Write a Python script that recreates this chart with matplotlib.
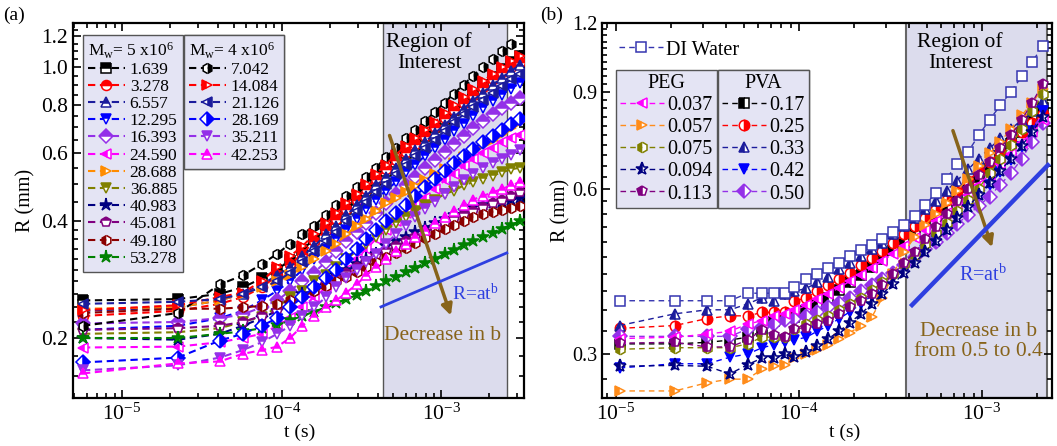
import math
import matplotlib
matplotlib.use("Agg")
import matplotlib.pyplot as plt
from matplotlib.ticker import LogLocator, FixedLocator, FuncFormatter, NullFormatter

plt.rcParams["font.family"] = ["Liberation Serif", "DejaVu Serif"]
plt.rcParams["mathtext.fontset"] = "custom"
plt.rcParams["mathtext.rm"] = "Liberation Serif"
plt.rcParams["mathtext.it"] = "Liberation Serif:italic"
plt.rcParams["mathtext.bf"] = "Liberation Serif:bold"

nan = float("nan")

# ---- panel (a): R (mm) vs t (s), two molecular weights ----
T_A = [5.7e-6, 2.24e-5, 4.1e-5, 5.7e-5, 7.5e-5, 9.4e-5, 1.13e-4, 1.35e-4, 1.6e-4, 1.9e-4,
       2.2e-4, 2.55e-4, 2.95e-4, 3.4e-4, 3.9e-4, 4.5e-4, 5.2e-4, 6.0e-4, 6.9e-4, 7.9e-4,
       9.1e-4, 1.05e-3, 1.2e-3, 1.38e-3, 1.58e-3, 1.82e-3, 2.1e-3, 2.4e-3, 2.75e-3, 3.1e-3]

# Mw = 5x10^6
a_1639 = [0.25, 0.252, 0.26, 0.27, 0.285, 0.3, 0.318, 0.338, 0.36, 0.382, 0.405, 0.43, 0.455, 0.48, 0.51,
          0.54, 0.57, 0.6, 0.63, 0.665, 0.70, 0.735, 0.775, 0.815, 0.855, 0.9, 0.945, 0.99, 1.03, 1.07]
a_3278 = [0.228, 0.235, 0.245, 0.255, 0.27, 0.29, 0.31, 0.33, 0.355, 0.38, 0.405, 0.43, 0.455, 0.485, 0.515,
          0.545, 0.575, 0.605, 0.635, 0.665, 0.70, 0.74, 0.775, 0.81, 0.85, 0.89, 0.93, 0.97, 1.0, 1.03]
a_6557 = [0.235, 0.24, 0.25, 0.26, 0.275, 0.29, 0.305, 0.325, 0.345, 0.37, 0.39, 0.415, 0.44, 0.465, 0.495,
          0.52, 0.55, 0.58, 0.61, 0.64, 0.675, 0.71, 0.745, 0.78, 0.82, 0.86, 0.9, 0.94, 0.98, 1.01]
a_12295 = [0.21, 0.215, 0.225, 0.235, 0.25, 0.265, 0.28, 0.3, 0.32, 0.34, 0.36, 0.38, 0.405, 0.43, 0.455,
           0.48, 0.505, 0.535, 0.56, 0.59, 0.62, 0.65, 0.685, 0.715, 0.75, 0.785, 0.82, 0.85, 0.88, 0.91]
a_16393 = [0.218, 0.22, 0.225, 0.23, 0.24, 0.25, 0.265, 0.28, 0.295, 0.315, 0.335, 0.355, 0.375, 0.395, 0.42,
           0.445, 0.47, 0.495, 0.52, 0.55, 0.575, 0.605, 0.635, 0.665, 0.695, 0.725, 0.755, 0.785, 0.81, 0.835]
a_24590 = [0.189, 0.19, 0.195, 0.2, 0.205, 0.215, 0.225, 0.24, 0.255, 0.27, 0.285, 0.3, 0.32, 0.34, 0.36,
           0.38, 0.4, 0.42, 0.44, 0.46, 0.485, 0.51, 0.53, 0.555, 0.58, 0.6, 0.62, 0.64, 0.655, 0.67]
a_28688 = [0.238, 0.24, 0.25, 0.26, 0.27, 0.28, 0.29, 0.305, 0.32, 0.335, 0.35, 0.37, 0.39, 0.405, 0.425,
           0.445, 0.46, 0.477, 0.494, 0.511, 0.529, 0.547, 0.566, 0.586, 0.607, 0.628, 0.65, 0.673, 0.696, 0.72]
a_36885 = [0.205, 0.207, 0.212, 0.22, 0.227, 0.24, 0.255, 0.265, 0.28, 0.29, 0.305, 0.32, 0.335, 0.35, 0.365,
           0.38, 0.395, 0.41, 0.425, 0.44, 0.455, 0.47, 0.48, 0.495, 0.505, 0.515, 0.525, 0.535, 0.545, 0.55]
a_40983 = [0.2, 0.198, 0.205, 0.215, 0.225, 0.235, 0.245, 0.26, 0.27, 0.28, 0.29, 0.3, 0.31, 0.32, 0.33,
           0.345, 0.355, 0.365, 0.375, 0.385, 0.395, 0.405, 0.415, 0.425, 0.435, 0.44, 0.445, 0.45, 0.455, 0.46]
a_45081 = [0.21, 0.212, 0.215, 0.22, 0.228, 0.235, 0.245, 0.255, 0.265, 0.275, 0.285, 0.295, 0.305, 0.315, 0.325,
           0.335, 0.345, 0.355, 0.365, 0.375, 0.385, 0.395, 0.405, 0.415, 0.425, 0.435, 0.445, 0.455, 0.465, 0.475]
a_49180 = [0.232, 0.238, 0.238, 0.24, 0.242, 0.245, 0.25, 0.257, 0.265, 0.272, 0.28, 0.288, 0.296, 0.305, 0.314,
           0.323, 0.332, 0.342, 0.352, 0.362, 0.372, 0.382, 0.392, 0.402, 0.41, 0.417, 0.423, 0.428, 0.433, 0.437]
a_53278 = [0.2, 0.2, 0.205, 0.208, 0.212, 0.216, 0.222, 0.228, 0.234, 0.24, 0.246, 0.252, 0.258, 0.265, 0.272,
           0.28, 0.288, 0.296, 0.304, 0.312, 0.32, 0.329, 0.338, 0.347, 0.356, 0.365, 0.374, 0.383, 0.392, 0.40]
# Mw = 4x10^6
a_7042 = [0.215, 0.232, 0.275, 0.29, 0.31, 0.33, 0.35, 0.37, 0.39, 0.415, 0.44, 0.465, 0.49, 0.52, 0.55,
          0.585, 0.62, 0.655, 0.69, 0.725, 0.765, 0.81, 0.855, 0.9, 0.95, 1.0, 1.05, 1.10, 1.15, nan]
a_14084 = [0.236, 0.243, 0.255, 0.262, 0.28, 0.305, 0.325, 0.345, 0.37, 0.395, 0.42, 0.445, 0.47, 0.5, 0.53,
           0.56, 0.595, 0.625, 0.655, 0.69, 0.72, 0.76, 0.80, 0.84, 0.88, 0.92, 0.96, 1.0, 1.04, 1.07]
a_21126 = [0.245, 0.248, 0.252, 0.26, 0.27, 0.28, 0.295, 0.315, 0.335, 0.355, 0.375, 0.4, 0.425, 0.45, 0.475,
           0.5, 0.53, 0.56, 0.59, 0.62, 0.65, 0.685, 0.72, 0.755, 0.79, 0.825, 0.86, 0.895, 0.93, 0.96]
a_28169 = [0.173, 0.178, 0.197, 0.205, 0.215, 0.225, 0.24, 0.255, 0.27, 0.285, 0.3, 0.32, 0.34, 0.36, 0.38,
           0.4, 0.42, 0.44, 0.465, 0.49, 0.515, 0.54, 0.565, 0.59, 0.615, 0.64, 0.665, 0.69, 0.715, 0.735]
a_35211 = [0.165, 0.17, 0.178, 0.186, 0.195, 0.205, 0.215, 0.228, 0.24, 0.255, 0.27, 0.285, 0.3, 0.315, 0.33,
           0.35, 0.37, 0.39, 0.41, 0.43, 0.45, 0.47, 0.49, 0.51, 0.53, 0.55, 0.565, 0.58, 0.595, 0.61]
a_42253 = [0.162, 0.172, 0.174, 0.182, 0.186, 0.19, 0.2, 0.215, 0.228, 0.24, 0.25, 0.262, 0.275, 0.29, 0.305,
           0.32, 0.335, 0.35, 0.365, 0.38, 0.395, 0.41, 0.425, 0.44, 0.455, 0.465, 0.475, 0.485, 0.495, 0.505]

LAB_MW5 = ["1.639", "3.278", "6.557", "12.295", "16.393", "24.590", "28.688", "36.885",
           "40.983", "45.081", "49.180", "53.278"]
LAB_MW4 = ["7.042", "14.084", "21.126", "28.169", "35.211", "42.253"]

# ---- panel (b): DI water, PEG and PVA ----
T_B = [1.05e-5, 2.1e-5, 3.15e-5, 4.2e-5, 5.25e-5, 6.3e-5, 7.35e-5, 8.4e-5, 9.45e-5, 1.1e-4,
       1.26e-4, 1.45e-4, 1.66e-4, 1.9e-4, 2.18e-4, 2.5e-4, 2.86e-4, 3.28e-4, 3.76e-4, 4.3e-4,
       4.9e-4, 5.6e-4, 6.4e-4, 7.3e-4, 8.4e-4, 9.6e-4, 1.1e-3, 1.26e-3, 1.44e-3, 1.65e-3,
       1.88e-3, 2.15e-3]

b_water = [0.375, 0.375, 0.375, 0.375, 0.387, 0.387, 0.387, 0.387, 0.398, 0.41, 0.42, 0.43, 0.44, 0.452,
           0.463, 0.474, 0.485, 0.5, 0.515, 0.535, 0.56, 0.59, 0.625, 0.665, 0.70, 0.75, 0.80, 0.85,
           0.90, 0.96, 1.02, 1.09]
b_peg037 = [0.32, 0.322, 0.326, 0.33, 0.34, 0.345, 0.352, 0.355, 0.36, 0.368, 0.377, 0.386, 0.396, 0.407,
            0.418, 0.43, 0.443, 0.457, 0.472, 0.488, 0.505, 0.523, 0.542, 0.562, 0.585, 0.61, 0.636, 0.664,
            0.694, 0.726, 0.76, 0.80]
b_peg057 = [0.257, 0.257, 0.266, 0.27, 0.27, 0.282, 0.285, 0.287, 0.295, 0.3, 0.305, 0.312, 0.32, 0.328,
            0.338, 0.35, 0.38, 0.42, 0.46, 0.49, 0.515, 0.54, 0.565, 0.595, 0.625, 0.66, 0.695, 0.73,
            0.77, 0.815, 0.86, 0.91]
b_peg075 = [0.306, 0.308, 0.308, 0.308, 0.313, 0.322, 0.322, 0.322, 0.333, 0.34, 0.346, 0.352, 0.36, 0.37,
            0.38, 0.392, 0.405, 0.42, 0.437, 0.455, 0.475, 0.497, 0.52, 0.545, 0.572, 0.6, 0.64, 0.68,
            0.72, 0.77, 0.83, 0.89]
b_peg094 = [0.285, 0.286, 0.285, 0.276, 0.287, 0.295, 0.295, 0.3, 0.296, 0.302, 0.31, 0.32, 0.33, 0.342,
            0.355, 0.37, 0.386, 0.403, 0.421, 0.44, 0.46, 0.482, 0.505, 0.53, 0.556, 0.584, 0.614, 0.646,
            0.68, 0.718, 0.76, 0.81]
b_peg113 = [0.314, 0.315, 0.309, 0.309, 0.318, 0.332, 0.325, 0.322, 0.333, 0.335, 0.34, 0.345, 0.355, 0.365,
            0.375, 0.385, 0.4, 0.42, 0.44, 0.46, 0.485, 0.51, 0.54, 0.57, 0.6, 0.635, 0.67, 0.71,
            0.75, 0.8, 0.86, 0.93]
b_pva17 = [0.313, 0.313, 0.315, 0.318, 0.322, 0.33, 0.345, 0.35, 0.35, 0.36, 0.37, 0.38, 0.392, 0.405,
           0.418, 0.432, 0.447, 0.463, 0.48, 0.498, 0.517, 0.537, 0.558, 0.58, 0.605, 0.63, 0.655, 0.69,
           0.725, 0.76, 0.80, 0.84]
b_pva25 = [0.334, 0.338, 0.348, 0.352, 0.352, 0.357, 0.357, 0.358, 0.374, 0.38, 0.39, 0.4, 0.41, 0.422,
           0.435, 0.448, 0.462, 0.478, 0.495, 0.512, 0.53, 0.55, 0.572, 0.595, 0.62, 0.645, 0.67, 0.7,
           0.73, 0.76, 0.79, 0.82]
b_pva33 = [0.338, 0.355, 0.361, 0.361, 0.37, 0.38, 0.375, 0.386, 0.39, 0.395, 0.405, 0.415, 0.428, 0.44,
           0.452, 0.465, 0.478, 0.495, 0.512, 0.53, 0.55, 0.57, 0.595, 0.62, 0.65, 0.68, 0.71, 0.74,
           0.77, 0.8, 0.83, 0.865]
b_pva42 = [0.283, 0.288, 0.288, 0.296, 0.3, 0.308, 0.312, 0.315, 0.318, 0.322, 0.33, 0.338, 0.348, 0.358,
           0.37, 0.383, 0.397, 0.412, 0.428, 0.445, 0.463, 0.483, 0.505, 0.528, 0.553, 0.58, 0.61, 0.642,
           0.677, 0.715, 0.765, 0.83]
b_pva50 = [0.323, 0.323, 0.323, 0.323, 0.333, 0.336, 0.34, 0.346, 0.348, 0.352, 0.358, 0.365, 0.372, 0.38,
           0.39, 0.4, 0.41, 0.422, 0.435, 0.45, 0.465, 0.48, 0.498, 0.517, 0.537, 0.558, 0.58, 0.61,
           0.64, 0.68, 0.73, 0.79]

LAB_PEG = ["0.037", "0.057", "0.075", "0.094", "0.113"]
LAB_PVA = ["0.17", "0.25", "0.33", "0.42", "0.50"]

# styles: (color, marker, fillstyle)
NAVY = "#1c1c9c"
VIOLET = "#9430e8"
STY_MW5 = [("#000000", "s", "top"), ("#ff0000", "o", "top"), (NAVY, "^", "top"), ("#0000ff", "v", "top"),
           (VIOLET, "D", "top"), ("#ff00ff", "<", "left"), ("#ff8c00", ">", "left"), ("#808000", "v", "top"),
           ("#000080", "*", "top"), ("#800080", "p", "top"), ("#8b0000", "h", "left"), ("#008000", "*", "top")]
STY_MW4 = [("#000000", "h", "right"), ("#ff0000", ">", "left"), (NAVY, "<", "right"), ("#0000ff", "D", "right"),
           (VIOLET, "v", "top"), ("#ff00ff", "^", "top")]
STY_PEG = [("#ff00ff", "<", "left"), ("#ff8c1a", ">", "left"), ("#808000", "h", "left"),
           ("#000080", "*", "left"), ("#800080", "p", "left")]
STY_PVA = [("#000000", "s", "left"), ("#ff0000", "o", "right"), (NAVY, "^", "left"),
           ("#0000ff", "v", "full"), (VIOLET, "D", "left")]

SHADE = "#dcdced"
LEGBG = "#e4e4f4"
BROWN = "#87631a"
RBLUE = "#2e3fe0"


def draw(ax, t, r, sty, ms, lw, dash):
    color, marker, fill = sty
    if marker == "*":
        ms = ms * 1.3
    line, = ax.plot(t, r, color=color, marker=marker, fillstyle=fill, markerfacecoloralt="white",
                    ms=ms, mew=1.1, lw=lw, ls=(0, dash), zorder=3)
    return line


def style_axes(ax, ysize):
    ax.set_xscale("log")
    ax.set_yscale("log")
    ax.xaxis.set_major_locator(LogLocator(base=10))
    ax.xaxis.set_minor_locator(LogLocator(base=10, subs=range(2, 10)))
    ax.xaxis.set_major_formatter(FuncFormatter(lambda v, p: r"10$^{%d}$" % round(math.log10(v))))
    ax.xaxis.set_minor_formatter(NullFormatter())
    ax.yaxis.set_minor_formatter(NullFormatter())
    ax.tick_params(which="both", direction="in", top=True, right=True, width=1.2)
    ax.tick_params(which="major", length=6)
    ax.tick_params(which="minor", length=3.5)
    ax.tick_params(axis="x", labelsize=15.5, pad=4)
    ax.tick_params(axis="y", labelsize=ysize)
    for s in ax.spines.values():
        s.set_linewidth(1.6)


def legend_box(ax, handles, labels, title, anchor, fs, align, **kw):
    leg = ax.legend(handles, labels, title=title, loc="upper left", bbox_to_anchor=anchor,
                    borderaxespad=0, fancybox=False, framealpha=1, numpoints=1,
                    fontsize=fs, title_fontsize=fs, alignment=align, **kw)
    fr = leg.get_frame()
    fr.set_facecolor(LEGBG)
    fr.set_edgecolor("#555555")
    fr.set_linewidth(1.0)
    leg.set_zorder(6)
    ax.add_artist(leg)
    return leg


fig = plt.figure(figsize=(10.57, 4.46), dpi=100)
axA = fig.add_axes([0.069, 0.1076, 0.4267, 0.8408])
axB = fig.add_axes([0.5695, 0.1076, 0.4257, 0.8408])

# ---------------- panel (a) ----------------
style_axes(axA, 15.5)
axA.axvspan(4.3e-4, 2.6e-3, facecolor=SHADE, edgecolor="#555555", lw=1.0, zorder=0)
series5 = [a_1639, a_3278, a_6557, a_12295, a_16393, a_24590, a_28688, a_36885, a_40983, a_45081, a_49180, a_53278]
series4 = [a_7042, a_14084, a_21126, a_28169, a_35211, a_42253]
h5 = [draw(axA, T_A, r, s, 7.2, 1.5, (3.5, 2.2)) for r, s in zip(series5, STY_MW5)]
h4 = [draw(axA, T_A, r, s, 7.2, 1.5, (3.5, 2.2)) for r, s in zip(series4, STY_MW4)]
axA.set_xlim(4.93e-6, 3.3e-3)
axA.set_ylim(0.14, 1.3)
axA.yaxis.set_major_locator(FixedLocator([0.2, 0.4, 0.6, 0.8, 1.0, 1.2]))
axA.yaxis.set_major_formatter(FuncFormatter(lambda v, p: "%.1f" % v))
axA.yaxis.set_minor_locator(FixedLocator([0.14, 0.16, 0.18, 0.22, 0.24, 0.26, 0.28, 0.3, 0.32, 0.34, 0.36,
                                          0.38, 0.45, 0.5, 0.55, 0.65, 0.7, 0.75, 0.85, 0.9, 0.95,
                                          1.05, 1.1, 1.15, 1.25]))
axA.set_ylabel("R (mm)", fontsize=14.5)
axA.set_xlabel("t (s)", fontsize=14)
axA.yaxis.set_label_coords(-0.083, 0.528)
axA.xaxis.set_label_coords(0.503, -0.068)

kwA = dict(handlelength=2.1, handletextpad=0.3, labelspacing=0.06, borderpad=0.3)
legend_box(axA, h5, LAB_MW5, r"M$_{\rm w}$= 5 x10$^{6}$", (0.022, 0.968), 12.5, "left", **kwA)
legend_box(axA, h4, LAB_MW4, r"M$_{\rm w}$= 4 x10$^{6}$", (0.246, 0.968), 12.5, "left", **kwA)

axA.text(0.79, 0.975, "Region of\nInterest", transform=axA.transAxes, ha="center", va="top",
         fontsize=15.5, linespacing=1.15, zorder=7)
axA.annotate("", xy=(0.84, 0.213), xytext=(0.70, 0.707), xycoords="axes fraction",
             arrowprops=dict(arrowstyle="-|>", color=BROWN, lw=2.5, mutation_scale=16), zorder=7)
axA.plot([0.683, 0.962], [0.243, 0.387], transform=axA.transAxes, color=RBLUE, lw=2, zorder=7)
axA.text(0.891, 0.28, r"R=at$^{\rm b}$", transform=axA.transAxes, ha="center", va="center",
         fontsize=14, color=RBLUE, zorder=7)
axA.text(0.82, 0.168, "Decrease in b", transform=axA.transAxes, ha="center", va="center",
         fontsize=15.5, color=BROWN, zorder=7)

# ---------------- panel (b) ----------------
style_axes(axB, 14.5)
axB.axvspan(3.85e-4, 2.27e-3, facecolor=SHADE, edgecolor="#666666", lw=1.5, zorder=0)
pva = [b_pva17, b_pva25, b_pva33, b_pva42, b_pva50]
peg = [b_peg037, b_peg057, b_peg075, b_peg094, b_peg113]
hpva = [draw(axB, T_B, r, s, 7.5, 1.0, (4, 3)) for r, s in zip(pva, STY_PVA)]
hpeg = [draw(axB, T_B, r, s, 7.5, 1.0, (4, 3)) for r, s in zip(peg, STY_PEG)]
hw, = axB.plot(T_B, b_water, color="#3535b0", marker="s", mfc="white", ms=7.5, mew=1.1,
               lw=1.0, ls=(0, (4, 3)), zorder=3)
axB.set_xlim(8.4e-6, 2.41e-3)
axB.set_ylim(0.2495, 1.2)
axB.yaxis.set_major_locator(FixedLocator([0.3, 0.6, 0.9, 1.2]))
axB.yaxis.set_major_formatter(FuncFormatter(lambda v, p: "%.1f" % v))
axB.yaxis.set_minor_locator(FixedLocator([0.27, 0.33, 0.36, 0.39, 0.42, 0.45, 0.48, 0.51, 0.54, 0.57,
                                          0.63, 0.66, 0.69, 0.72, 0.75, 0.78, 0.81, 0.84, 0.87,
                                          0.93, 0.96, 0.99, 1.02, 1.05, 1.08, 1.11, 1.14, 1.17]))
axB.set_ylabel("R (mm)", fontsize=14.5)
axB.set_xlabel("t (s)", fontsize=14)
axB.yaxis.set_label_coords(-0.07, 0.5)
axB.xaxis.set_label_coords(0.54, -0.068)

lw_leg = axB.legend([hw], ["DI Water"], loc="upper left", bbox_to_anchor=(0.02, 0.975), borderaxespad=0,
                    frameon=False, fontsize=14.5, handlelength=2.2, handletextpad=0.15, numpoints=1)
axB.add_artist(lw_leg)
kwB = dict(handlelength=2.2, handletextpad=0.15, labelspacing=0.15, borderpad=0.2)
legend_box(axB, hpeg, LAB_PEG, "PEG", (0.031, 0.875), 14.5, "center", **kwB)
legend_box(axB, hpva, LAB_PVA, "PVA", (0.258, 0.875), 14.5, "center", **kwB)

axB.text(0.796, 0.975, "Region of\nInterest", transform=axB.transAxes, ha="center", va="top",
         fontsize=15.5, linespacing=1.15, zorder=7)
axB.annotate("", xy=(0.869, 0.395), xytext=(0.778, 0.72), xycoords="axes fraction",
             arrowprops=dict(arrowstyle="-|>", color=BROWN, lw=2.5, mutation_scale=16), zorder=7)
axB.plot([0.689, 0.991], [0.248, 0.621], transform=axB.transAxes, color=RBLUE, lw=3.2, zorder=7)
axB.text(0.847, 0.328, r"R=at$^{\rm b}$", transform=axB.transAxes, ha="center", va="center",
         fontsize=14.5, color=RBLUE, zorder=7)
axB.text(0.836, 0.15, "Decrease in b\nfrom 0.5 to 0.4", transform=axB.transAxes, ha="center",
         va="center", fontsize=15.5, color=BROWN, linespacing=1.1, zorder=7)

fig.text(0.003, 0.985, "(a)", fontsize=14, va="top")
fig.text(0.511, 0.985, "(b)", fontsize=14, va="top")

fig.savefig("out.png", dpi=100)
